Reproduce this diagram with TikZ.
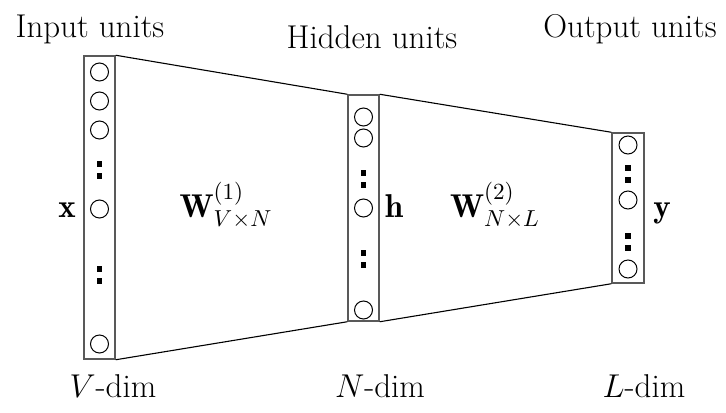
\RequirePackage{fix-cm}
\documentclass[tikz,border=0pt]{standalone}
\usepackage{amsmath}
\usepackage{fontspec}
\begin{document}
\begin{tikzpicture}[x=0.5pt,y=-0.5pt,
  font=\fontsize{16.5}{20}\selectfont,
  layerbox/.style={draw=black!65, line width=0.75pt, inner sep=0pt, fill=white},
  unitc/.style={circle, draw, line width=0.5pt, minimum size=9pt, inner sep=0pt},
  dotsq/.style={fill=black, minimum size=2.6pt, inner sep=0pt},
  conn/.style={draw=black, line width=0.55pt},
  lbl/.style={anchor=base, inner sep=0pt}]
\useasboundingbox (0,0) rectangle (726,412);
\node[layerbox, minimum width=15.5pt, minimum height=151.5pt] (in) at (99.5,207.5) {};
\node[layerbox, minimum width=15.5pt, minimum height=113pt] (hid) at (363.5,208) {};
\node[layerbox, minimum width=16pt, minimum height=75pt] (out) at (628,208) {};
\draw[conn] (in.north east) -- (hid.north west);
\draw[conn] (in.south east) -- (hid.south west);
\draw[conn] (hid.north east) -- (out.north west);
\draw[conn] (hid.south east) -- (out.south west);
% input units
\node[unitc] (i1) at (99.5,72) {};
\node[unitc] (i2) at (99.5,101) {};
\node[unitc] (i3) at (99.5,130) {};
\node[dotsq] (id1) at (99.5,164) {};
\node[dotsq] (id2) at (99.5,176) {};
\node[unitc] (i4) at (99.5,209) {};
\node[dotsq] (id3) at (99.5,269) {};
\node[dotsq] (id4) at (99.5,281) {};
\node[unitc] (i5) at (99.5,344) {};
% hidden units
\node[unitc] (h1) at (363.5,117) {};
\node[unitc] (h2) at (363.5,138) {};
\node[dotsq] (hd1) at (363.5,173) {};
\node[dotsq] (hd2) at (363.5,185) {};
\node[unitc] (h3) at (363.5,208) {};
\node[dotsq] (hd3) at (363.5,253) {};
\node[dotsq] (hd4) at (363.5,265) {};
\node[unitc] (h4) at (363.5,310) {};
% output units
\node[unitc] (o1) at (628,145) {};
\node[dotsq] (od1) at (628,168) {};
\node[dotsq] (od2) at (628,180) {};
\node[unitc] (o2) at (628,200) {};
\node[dotsq] (od3) at (628,236) {};
\node[dotsq] (od4) at (628,248) {};
\node[unitc] (o3) at (628,269) {};
% labels
\node[lbl] (tin) at (90,37) {Input units};
\node[lbl] (thid) at (372,48) {Hidden units};
\node[lbl] (tout) at (630,37) {Output units};
\node[lbl] (lx) at (67,217) {$\mathbf{x}$};
\node[lbl] (lh) at (394,217) {$\mathbf{h}$};
\node[lbl] (ly) at (662,217) {$\mathbf{y}$};
\node[lbl] (w1) at (226,217) {$\mathbf{W}^{(1)}_{V\times N}$};
\node[lbl] (w2) at (495,217) {$\mathbf{W}^{(2)}_{N\times L}$};
\node[lbl] (dv) at (113,397) {$V$-dim};
\node[lbl] (dn) at (380,397) {$N$-dim};
\node[lbl] (dl) at (644,397) {$L$-dim};
\end{tikzpicture}
\end{document}
